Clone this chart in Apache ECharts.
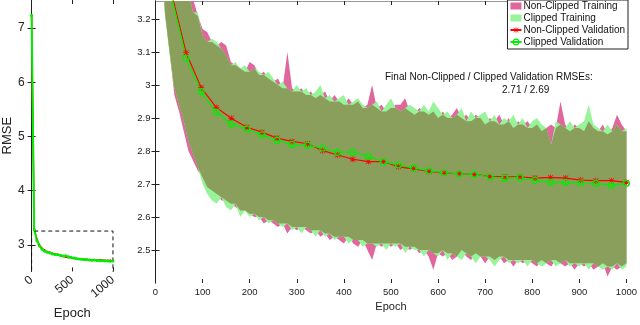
<!DOCTYPE html>
<html>
<head>
<meta charset="utf-8">
<script src="https://cdn.jsdelivr.net/npm/echarts@6/dist/echarts.min.js"></script>
<style>
  html, body { margin: 0; padding: 0; background: #fff; }
  #chart { width: 640px; height: 325px; }
</style>
</head>
<body>
<div id="chart"></div>
<script>
// validation RMSE, one point roughly every 32 epochs
const valEpochs = [0, 32, 65, 97, 129, 161, 194, 226, 258, 290, 323, 355, 387, 419, 452, 484,
  516, 548, 581, 613, 645, 677, 710, 742, 774, 806, 839, 871, 903, 935, 968, 1000];
const valNonClipped = [7.24, 3.29, 3.098, 2.992, 2.932, 2.899, 2.872, 2.857, 2.839, 2.829, 2.822, 2.801,
  2.788, 2.775, 2.768, 2.768, 2.752, 2.746, 2.738, 2.733, 2.731, 2.729, 2.723, 2.722, 2.722, 2.718,
  2.720, 2.718, 2.712, 2.710, 2.710, 2.705];
const valClipped = [7.24, 3.28, 3.081, 2.980, 2.918, 2.882, 2.866, 2.849, 2.832, 2.820, 2.817, 2.809,
  2.796, 2.797, 2.783, 2.767, 2.758, 2.749, 2.740, 2.734, 2.731, 2.729, 2.722, 2.717, 2.719, 2.711,
  2.705, 2.705, 2.703, 2.702, 2.696, 2.702];

// training RMSE: upper / lower envelope of the noisy per-batch curve
const trainEpochs = [15, 20, 30, 40, 50, 60, 70, 80, 90, 100, 110, 120, 130, 140, 150, 160, 170, 180, 190, 200,
  210, 220, 230, 240, 250, 260, 270, 280, 290, 300, 310, 320, 330, 340, 350, 360, 370, 380, 390, 400,
  410, 420, 430, 440, 450, 460, 470, 480, 490, 500, 510, 520, 530, 540, 550, 560, 570, 580, 590, 600,
  610, 620, 630, 640, 650, 660, 670, 680, 690, 700, 710, 720, 730, 740, 750, 760, 770, 780, 790, 800,
  810, 820, 830, 840, 850, 860, 870, 880, 890, 900, 910, 920, 930, 940, 950, 960, 970, 980, 990, 1000];
const trainUpNonClipped = [4.2, 3.90, 3.75, 3.60, 3.48, 3.38, 3.30, 3.26, 3.21, 3.17, 3.16, 3.13, 3.12, 3.13, 3.12, 3.07, 3.06, 3.05, 3.04, 3.07,
  3.06, 3.03, 3.04, 3.02, 3.01, 3.02, 2.99, 3.10, 2.99, 2.98, 2.99, 2.97, 2.98, 2.96, 2.97, 2.98, 2.95, 2.97, 2.95, 2.94,
  2.96, 2.94, 2.95, 2.93, 2.94, 3.00, 2.93, 2.94, 2.92, 2.93, 2.94, 2.94, 2.96, 2.92, 2.91, 2.93, 2.92, 2.91, 2.92, 2.90,
  2.92, 2.90, 2.91, 2.93, 2.90, 2.91, 2.89, 2.91, 2.90, 2.88, 2.90, 2.89, 2.91, 2.88, 2.90, 2.87, 2.89, 2.88, 2.89, 2.87,
  2.88, 2.86, 2.87, 2.88, 2.87, 2.95, 2.88, 2.86, 2.88, 2.87, 2.86, 2.89, 2.87, 2.86, 2.88, 2.85, 2.87, 2.91, 2.88, 2.86];
const trainUpClipped = [4.2, 3.90, 3.75, 3.58, 3.46, 3.36, 3.28, 3.22, 3.22, 3.15, 3.13, 3.14, 3.13, 3.11, 3.09, 3.06, 3.07, 3.05, 3.06, 3.04,
  3.05, 3.04, 3.03, 3.04, 3.02, 3.00, 3.01, 2.99, 2.98, 3.00, 2.98, 2.99, 2.97, 2.98, 3.00, 2.96, 2.97, 2.95, 2.96, 2.97,
  2.94, 2.95, 2.96, 2.94, 2.93, 2.94, 2.95, 2.92, 2.94, 2.96, 2.93, 2.92, 2.93, 2.94, 2.93, 2.92, 2.94, 2.92, 2.95, 2.93,
  2.91, 2.92, 2.90, 2.91, 2.93, 2.89, 2.92, 2.90, 2.91, 2.92, 2.89, 2.91, 2.88, 2.90, 2.89, 2.91, 2.88, 2.90, 2.87, 2.89,
  2.90, 2.88, 2.87, 2.82, 2.89, 2.88, 2.87, 2.89, 2.87, 2.88, 2.89, 2.94, 2.88, 2.87, 2.86, 2.88, 2.86, 2.88, 2.86, 2.87];
const trainLoNonClipped = [3.36, 3.22, 3.10, 2.97, 2.92, 2.86, 2.80, 2.77, 2.74, 2.72, 2.69, 2.68, 2.67, 2.65, 2.65, 2.64, 2.63, 2.62, 2.62, 2.61,
  2.60, 2.60, 2.58, 2.59, 2.58, 2.57, 2.58, 2.55, 2.57, 2.56, 2.57, 2.56, 2.55, 2.56, 2.54, 2.55, 2.53, 2.54, 2.53, 2.52,
  2.54, 2.52, 2.51, 2.53, 2.50, 2.47, 2.52, 2.51, 2.52, 2.51, 2.52, 2.50, 2.51, 2.50, 2.51, 2.49, 2.50, 2.48, 2.44, 2.49,
  2.48, 2.49, 2.47, 2.48, 2.50, 2.48, 2.47, 2.49, 2.48, 2.46, 2.48, 2.47, 2.48, 2.46, 2.47, 2.45, 2.47, 2.46, 2.47, 2.46,
  2.45, 2.47, 2.46, 2.45, 2.47, 2.46, 2.45, 2.46, 2.44, 2.46, 2.45, 2.46, 2.44, 2.45, 2.46, 2.42, 2.45, 2.44, 2.45, 2.46];
const trainLoClipped = [3.36, 3.21, 3.09, 2.99, 2.94, 2.89, 2.83, 2.79, 2.75, 2.70, 2.67, 2.65, 2.64, 2.66, 2.63, 2.62, 2.64, 2.60, 2.62, 2.60,
  2.61, 2.59, 2.60, 2.58, 2.59, 2.58, 2.57, 2.58, 2.56, 2.57, 2.55, 2.57, 2.56, 2.54, 2.56, 2.54, 2.55, 2.53, 2.54, 2.54,
  2.52, 2.53, 2.53, 2.51, 2.52, 2.52, 2.51, 2.52, 2.50, 2.52, 2.51, 2.52, 2.49, 2.51, 2.50, 2.50, 2.48, 2.50, 2.49, 2.48,
  2.50, 2.47, 2.49, 2.48, 2.47, 2.49, 2.48, 2.46, 2.48, 2.48, 2.47, 2.45, 2.47, 2.48, 2.46, 2.47, 2.46, 2.47, 2.45, 2.47,
  2.46, 2.45, 2.46, 2.47, 2.45, 2.46, 2.47, 2.45, 2.46, 2.45, 2.46, 2.44, 2.46, 2.45, 2.44, 2.45, 2.44, 2.46, 2.44, 2.45];

// ticks / labels
const mainYTicks = [2.5, 2.6, 2.7, 2.8, 2.9, 3.0, 3.1, 3.2];
const insetYTicks = [3, 4, 5, 6, 7];
const insetXTicks = [0, 500, 1000];
// region of the big panel, outlined on the small one
const zoomBox = [[0, 2.4], [0, 3.255], [1000, 3.255], [1000, 2.4]];

const PINK = '#e0669c';
const LIGHTGREEN = '#98f39a';
const OLIVE = '#8a9f5c';
const GREEN = '#00ee00';
const FONT = 'Liberation Sans, Arial, sans-serif';
const STAR = 'path://M4.4,0H5.6V10H4.4Z M0,4.4H10V5.6H0Z M1.2,0.4L9.6,8.8L8.8,9.6L0.4,1.2Z M8.8,0.4L9.6,1.2L1.2,9.6L0.4,8.8Z';

// overlap of the two training bands
const upBoth = trainUpNonClipped.map((v, i) => Math.min(v, trainUpClipped[i]));
const loBoth = trainLoNonClipped.map((v, i) => Math.max(v, trainLoClipped[i]));

function bandSeries(name, upper, lower, color) {
  return {
    name: name,
    type: 'custom',
    xAxisIndex: 1,
    yAxisIndex: 1,
    clip: true,
    silent: true,
    itemStyle: { color: color },
    encode: { x: 0, y: [1, 2] },
    data: trainEpochs.map((e, i) => [e, lower[i], upper[i]]),
    renderItem: function (params, api) {
      // the whole band is one polygon, drawn once
      if (params.dataIndex !== 0) return null;
      const pts = [];
      for (let i = 0; i < trainEpochs.length; i++) pts.push(api.coord([trainEpochs[i], upper[i]]));
      for (let i = trainEpochs.length - 1; i >= 0; i--) pts.push(api.coord([trainEpochs[i], lower[i]]));
      return { type: 'polygon', shape: { points: pts }, style: { fill: color } };
    }
  };
}

function valSeries(name, values, color, symbol, size, width, xi, open) {
  return {
    name: name,
    type: 'line',
    xAxisIndex: xi,
    yAxisIndex: xi,
    data: valEpochs.map((e, i) => [e, values[i]]),
    symbol: symbol,
    symbolSize: size,
    showSymbol: true,
    clip: true,
    lineStyle: { color: color, width: width },
    itemStyle: open
      ? { color: 'rgba(0,0,0,0)', borderColor: color, borderWidth: 1.2 }
      : { color: color },
  };
}

const axisStyle = { lineStyle: { color: '#222', width: 1 } };
const tickStyle = { inside: true, length: 4, lineStyle: { color: '#222' } };
const plain = v => String(v);

const chart = echarts.init(document.getElementById('chart'), null, { renderer: 'canvas' });
chart.setOption({
  animation: false,
  backgroundColor: '#fff',
  textStyle: { fontFamily: FONT },
  grid: [
    { left: 23, top: 0, width: 92, height: 283 },
    { left: 155.5, top: 1, width: 472, height: 282 }
  ],
  xAxis: [
    {
      gridIndex: 0, type: 'value', min: -25, max: 1025, position: 'bottom',
      name: 'Epoch', nameLocation: 'middle', nameGap: 30,
      nameTextStyle: { fontSize: 13, color: '#222', fontFamily: FONT },
      axisLine: { show: false },
      axisTick: Object.assign({ customValues: insetXTicks }, tickStyle),
      axisLabel: { customValues: insetXTicks, rotate: 40, margin: 7, fontSize: 12, color: '#222',
        fontFamily: FONT, formatter: plain },
      splitLine: { show: false }
    },
    {
      gridIndex: 1, type: 'value', min: 0, max: 1000, interval: 100, position: 'bottom',
      name: 'Epoch', nameLocation: 'middle', nameGap: 14,
      nameTextStyle: { fontSize: 11, color: '#222', fontFamily: FONT },
      axisLine: { show: false },
      axisTick: tickStyle,
      axisLabel: { margin: 4, fontSize: 9.5, color: '#222', fontFamily: FONT, formatter: plain },
      splitLine: { show: false }
    },
    {
      gridIndex: 0, type: 'value', min: -25, max: 1025, position: 'top',
      axisLine: { show: false },
      axisTick: Object.assign({ customValues: insetXTicks }, tickStyle),
      axisLabel: { show: false }, splitLine: { show: false }
    },
    {
      gridIndex: 1, type: 'value', min: 0, max: 1000, interval: 100, position: 'top',
      axisLine: { show: true, lineStyle: { color: '#999', width: 1 } },
      axisTick: tickStyle,
      axisLabel: { show: false }, splitLine: { show: false }
    }
  ],
  yAxis: [
    {
      gridIndex: 0, type: 'value', min: 2.51, max: 7.52, position: 'left',
      name: 'RMSE', nameLocation: 'middle', nameGap: 11,
      nameTextStyle: { fontSize: 13, color: '#222', fontFamily: FONT },
      axisLine: Object.assign({ show: true }, axisStyle),
      axisTick: Object.assign({ customValues: insetYTicks }, tickStyle),
      axisLabel: { customValues: insetYTicks, margin: 5, fontSize: 12, color: '#222', fontFamily: FONT },
      splitLine: { show: false }
    },
    {
      gridIndex: 1, type: 'value', min: 2.4, max: 3.2545, position: 'left',
      axisLine: Object.assign({ show: true }, axisStyle),
      axisTick: Object.assign({ customValues: mainYTicks }, tickStyle),
      axisLabel: { customValues: mainYTicks, margin: 5, fontSize: 9.5, color: '#222', fontFamily: FONT,
        formatter: v => (Math.round(v * 10) / 10).toString() },
      splitLine: { show: false }
    },
    {
      gridIndex: 0, type: 'value', min: 2.51, max: 7.52, position: 'right',
      axisLine: Object.assign({ show: true }, axisStyle),
      axisTick: Object.assign({ customValues: insetYTicks }, tickStyle),
      axisLabel: { show: false }, splitLine: { show: false }
    },
    {
      gridIndex: 1, type: 'value', min: 2.4, max: 3.2545, position: 'right',
      axisLine: Object.assign({ show: true }, axisStyle),
      axisTick: Object.assign({ customValues: mainYTicks }, tickStyle),
      axisLabel: { show: false }, splitLine: { show: false }
    }
  ],
  legend: {
    right: 12, top: 0,
    orient: 'vertical',
    itemWidth: 11, itemHeight: 7, itemGap: 2,
    padding: [1, 3, 2, 2],
    backgroundColor: '#fff',
    borderColor: '#222', borderWidth: 1, borderRadius: 0,
    textStyle: { fontSize: 10, color: '#111', fontFamily: FONT, lineHeight: 10, padding: [0, 0, 0, -3] },
    data: [
      { name: 'Non-Clipped Training', icon: 'rect' },
      { name: 'Clipped Training', icon: 'rect' },
      'Non-Clipped Validation',
      { name: 'Clipped Validation', itemStyle: { color: 'rgba(0,0,0,0)', borderColor: GREEN, borderWidth: 1.2 } }
    ]
  },
  graphic: [
    { type: 'text', left: 385, top: 72, silent: true,
      style: { text: 'Final Non-Clipped / Clipped Validation RMSEs:', fontSize: 10, fontFamily: FONT, fill: '#111' } },
    { type: 'text', left: 502, top: 85, silent: true,
      style: { text: '2.71 / 2.69', fontSize: 10, fontFamily: FONT, fill: '#111' } }
  ],
  series: [
    bandSeries('Non-Clipped Training', trainUpNonClipped, trainLoNonClipped, PINK),
    bandSeries('Clipped Training', trainUpClipped, trainLoClipped, LIGHTGREEN),
    bandSeries('overlap', upBoth, loBoth, OLIVE),
    valSeries('Non-Clipped Validation', valNonClipped, '#ff0000', STAR, 6, 1.2, 1, false),
    valSeries('Clipped Validation', valClipped, GREEN, 'circle', 6, 1.2, 1, true),
    valSeries('Non-Clipped Validation', valNonClipped, '#ff0000', 'circle', 2, 1.5, 0, false),
    valSeries('Clipped Validation', valClipped, GREEN, 'circle', 3, 2, 0, false),
    {
      name: 'zoom box', type: 'line', xAxisIndex: 0, yAxisIndex: 0,
      data: zoomBox, symbol: 'none', clip: true, silent: true,
      lineStyle: { color: '#111', width: 1, type: [4, 3] }
    }
  ]
});
</script>
</body>
</html>
